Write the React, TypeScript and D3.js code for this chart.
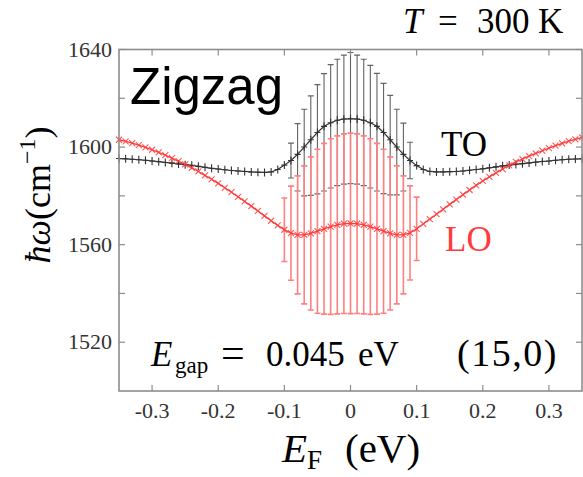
import React from "react";
import * as d3 from "d3";

const energies = [
  -0.35, -0.34, -0.33, -0.32, -0.31, -0.3, -0.29, -0.28, -0.27, -0.26, -0.25, -0.24,
  -0.23, -0.22, -0.21, -0.2, -0.19, -0.18, -0.17, -0.16, -0.15, -0.14, -0.13, -0.12,
  -0.11, -0.1, -0.09, -0.08, -0.07, -0.06, -0.05, -0.04, -0.03, -0.02, -0.01, 0,
  0.01, 0.02, 0.03, 0.04, 0.05, 0.06, 0.07, 0.08, 0.09, 0.1, 0.11, 0.12, 0.13, 0.14,
  0.15, 0.16, 0.17, 0.18, 0.19, 0.2, 0.21, 0.22, 0.23, 0.24, 0.25, 0.26, 0.27, 0.28,
  0.29, 0.3, 0.31, 0.32, 0.33, 0.34, 0.35,
];

// TO phonon (black)
const toValues = [
  1595.3, 1595.2, 1595.0, 1594.8, 1594.6, 1594.3, 1594.0, 1593.7, 1593.4, 1593.1, 1592.8, 1592.5,
  1592.1, 1591.7, 1591.3, 1591.0, 1590.7, 1590.4, 1590.2, 1590.0, 1589.8, 1589.7, 1589.6, 1589.8,
  1590.8, 1592.6, 1594.5, 1597.0, 1600.0, 1603.0, 1606.0, 1608.5, 1610.0, 1611.0, 1611.5, 1611.6,
  1611.5, 1611.0, 1610.0, 1608.5, 1606.0, 1603.0, 1600.0, 1597.0, 1594.5, 1592.4, 1590.8, 1590.0,
  1589.8, 1589.8, 1589.9, 1590.0, 1590.2, 1590.5, 1590.8, 1591.1, 1591.5, 1591.9, 1592.3, 1592.6,
  1592.9, 1593.2, 1593.5, 1593.8, 1594.1, 1594.3, 1594.6, 1594.8, 1595.0, 1595.1, 1595.2,
];

// TO error bars (upper and lower ends), E = -0.09 .. 0.09
const toErrEnergies = [-0.09, -0.08, -0.07, -0.06, -0.05, -0.04, -0.03, -0.02, -0.01, 0, 0.01, 0.02, 0.03, 0.04, 0.05, 0.06, 0.07, 0.08, 0.09];
const toErrTop = [1601.6, 1609.6, 1615.5, 1621.0, 1625.6, 1630.1, 1633.8, 1636.0, 1637.7, 1638.8, 1637.7, 1636.0, 1633.5, 1630.2, 1626.1, 1621.2, 1615.5, 1609.8, 1602.0];
const toErrBottom = [1587.3, 1582.0, 1580.0, 1580.2, 1580.8, 1582.0, 1583.2, 1584.2, 1584.8, 1585.0, 1584.8, 1584.2, 1583.2, 1582.0, 1580.9, 1580.4, 1580.4, 1582.0, 1587.0];

// LO phonon (red)
const loValues = [
  1603.0, 1602.3, 1601.6, 1600.8, 1599.9, 1598.9, 1597.8, 1596.7, 1595.5, 1594.2, 1592.9, 1591.5,
  1590.0, 1588.4, 1586.8, 1585.1, 1583.3, 1581.5, 1579.6, 1577.7, 1575.8, 1573.8, 1571.8, 1569.8,
  1567.9, 1566.1, 1564.7, 1564.0, 1564.0, 1564.6, 1565.5, 1566.5, 1567.4, 1568.1, 1568.6, 1568.7,
  1568.6, 1568.1, 1567.4, 1566.5, 1565.5, 1564.6, 1564.0, 1564.0, 1564.8, 1566.5, 1568.5, 1570.5,
  1572.5, 1574.5, 1576.5, 1578.5, 1580.5, 1582.4, 1584.3, 1586.1, 1587.8, 1589.4, 1591.0, 1592.5,
  1593.9, 1595.1, 1596.3, 1597.4, 1598.5, 1599.6, 1600.6, 1601.5, 1602.4, 1603.2, 1604.0,
];

// LO error-bar half widths, E = -0.10 .. 0.10
const loErrEnergies = [-0.1, -0.09, -0.08, -0.07, -0.06, -0.05, -0.04, -0.03, -0.02, -0.01, 0, 0.01, 0.02, 0.03, 0.04, 0.05, 0.06, 0.07, 0.08, 0.09, 0.1];
const loErrors = [13.0, 19.3, 24.2, 28.3, 31.4, 33.6, 35.0, 36.0, 36.5, 36.8, 37.0, 36.8, 36.5, 36.0, 35.0, 33.6, 31.4, 28.3, 24.2, 19.3, 13.0];

const xTicks = [-0.3, -0.2, -0.1, 0, 0.1, 0.2, 0.3];
const xTickLabels = ["-0.3", "-0.2", "-0.1", "0", "0.1", "0.2", "0.3"];
const yTicks = [1520, 1560, 1600, 1640];
const yMinorTicks = [1540, 1580, 1620];

const W = 583;
const H = 477;
const L = 119, R = 582, T = 49.5, B = 391;

export default function App() {
  const x = d3.scaleLinear().domain([-0.35, 0.35]).range([L, R]);
  const y = d3.scaleLinear().domain([1500, 1640]).range([B, T]);

  const toData = energies.map((e, i) => [e, toValues[i]] as [number, number]);
  const loData = energies.map((e, i) => [e, loValues[i]] as [number, number]);

  const line = d3.line<[number, number]>().x((d) => x(d[0])).y((d) => y(d[1]));

  const plus = (d: [number, number], h: number, w: number) => {
    const cx = x(d[0]), cy = y(d[1]);
    return `M${cx - w / 2},${cy}H${cx + w / 2}M${cx},${cy - h / 2}V${cy + h / 2}`;
  };
  const cross = (d: [number, number], s: number) => {
    const cx = x(d[0]), cy = y(d[1]);
    return `M${cx - s},${cy - s}L${cx + s},${cy + s}M${cx - s},${cy + s}L${cx + s},${cy - s}`;
  };
  const bar = (e: number, hi: number, lo: number, cap: number) => {
    const cx = x(e), y1 = y(hi), y2 = y(lo);
    return `M${cx},${y1}V${y2}M${cx - cap},${y1}H${cx + cap}M${cx - cap},${y2}H${cx + cap}`;
  };
  const valAt = (arr: number[], e: number) => arr[energies.findIndex((v) => Math.abs(v - e) < 1e-9)];

  const serif = "'Liberation Serif', 'Times New Roman', serif";
  const axisColor = "#8c8c8c";
  const red = "#ff3b3b";

  return (
    <svg width={W} height={H} style={{ position: "absolute", left: 0, top: 0, background: "#fff" }}>
      <rect x={0} y={0} width={W} height={H} fill="#fff" />
      {/* black error bars */}
      <g stroke="#4a4a4a" strokeWidth={1.1} fill="none" opacity={0.85}>
        {toErrEnergies.map((e, i) => (
          <path key={i} d={bar(e, toErrTop[i], toErrBottom[i], 3)} />
        ))}
      </g>
      {/* TO line + markers */}
      <path d={line(toData) || ""} fill="none" stroke="#333" strokeWidth={1.2} />
      <g stroke="#333" strokeWidth={1.1}>
        {toData.map((d, i) => (
          <path key={i} d={plus(d, 8, 6)} />
        ))}
      </g>
      {/* red error bars */}
      <g stroke="#ff8080" strokeWidth={1.6} fill="none">
        {loErrEnergies.map((e, i) => {
          const c = valAt(loValues, e);
          return <path key={i} d={bar(e, c + loErrors[i], c - loErrors[i], 3)} />;
        })}
      </g>
      {/* LO line + markers */}
      <path d={line(loData) || ""} fill="none" stroke={red} strokeWidth={1.3} />
      <g stroke={red} strokeWidth={1.1} opacity={0.85}>
        {loData.map((d, i) => (
          <path key={i} d={cross(d, 3)} />
        ))}
      </g>

      {/* frame */}
      <rect x={L} y={T} width={R - L} height={B - T} fill="none" stroke={axisColor} strokeWidth={1.6} />
      <g stroke={axisColor} strokeWidth={1.2}>
        {xTicks.map((t) => (
          <g key={t}>
            <line x1={x(t)} x2={x(t)} y1={B} y2={B - 6} />
            <line x1={x(t)} x2={x(t)} y1={T} y2={T + 6} />
          </g>
        ))}
        {[...yTicks, ...yMinorTicks].map((t) => (
          <g key={t}>
            <line x1={L} x2={L + 6} y1={y(t)} y2={y(t)} />
            <line x1={R} x2={R - 6} y1={y(t)} y2={y(t)} />
          </g>
        ))}
      </g>
      {/* tick labels */}
      <g fontFamily={serif} fontSize={22} fill="#333">
        {xTicks.map((t, i) => (
          <text key={t} x={x(t)} y={418} textAnchor="middle">
            {xTickLabels[i]}
          </text>
        ))}
        {yTicks.map((t) => (
          <text key={t} x={112} y={y(t) + 7} textAnchor="end">
            {t}
          </text>
        ))}
      </g>

      {/* annotations */}
      <text x={130} y={104} fontFamily="'Liberation Sans', Arial, sans-serif" fontSize={51} fill="#000">
        Zigzag
      </text>
      <text x={441} y={156} fontFamily={serif} fontSize={35} fill="#000">TO</text>
      <text x={445} y={251} fontFamily={serif} fontSize={35} fill={red}>LO</text>
      <text y={33} fontFamily={serif} fontSize={35} fill="#000">
        <tspan x={403} fontStyle="italic">T</tspan>
        <tspan x={438}>=</tspan>
        <tspan x={477}>300</tspan>
        <tspan x={538}>K</tspan>
      </text>
      <text y={366} fontFamily={serif} fontSize={35} fill="#000">
        <tspan x={151} fontStyle="italic">E</tspan>
        <tspan x={175} fontSize={23} dy={7}>gap</tspan>
        <tspan x={221} fontSize={42} dy={-6}>=</tspan>
        <tspan x={266} dy={-1}>0.045</tspan>
        <tspan x={358}>eV</tspan>
      </text>
      <text x={457} y={366} fontFamily={serif} fontSize={38} letterSpacing={1.5} fill="#000">(15,0)</text>
      <text y={462} fontFamily={serif} fontSize={41} fill="#000">
        <tspan x={282} fontStyle="italic">E</tspan>
        <tspan x={307} fontSize={27} dy={7}>F</tspan>
        <tspan x={345} dy={-7}>(eV)</tspan>
      </text>
      <text
        transform="translate(50,195) rotate(-90)"
        textAnchor="middle"
        fontFamily={serif}
        fontSize={36}
        fill="#000"
      >
        <tspan fontStyle="italic">ħω</tspan>
        <tspan>(cm</tspan>
        <tspan fontSize={24} dy={-15}>−1</tspan>
        <tspan dy={15}>)</tspan>
      </text>
    </svg>
  );
}
